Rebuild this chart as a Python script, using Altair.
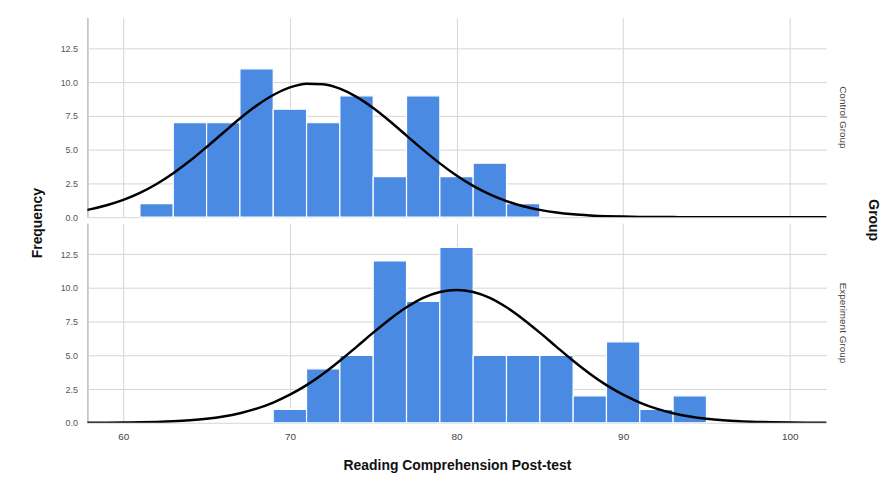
import altair as alt
import pandas as pd

# Histogram bins (bin width 2) and frequencies
control_bin_start = [61, 63, 65, 67, 69, 71, 73, 75, 77, 79, 81, 83]
control_counts = [1, 7, 7, 11, 8, 7, 9, 3, 9, 3, 4, 1]

exp_bin_start = [69, 71, 73, 75, 77, 79, 81, 83, 85, 87, 89, 91, 93]
exp_counts = [1, 4, 5, 12, 9, 13, 5, 5, 5, 2, 6, 1, 2]

bin_width = 2

# Normal curve heights
curve_x = [57, 58, 59, 60, 61, 62, 63, 64, 65, 66, 67, 68, 69, 70, 71, 72, 73, 74, 75,
           76, 77, 78, 79, 80, 81, 82, 83, 84, 85, 86, 87, 88, 89, 90, 91, 92, 93, 94,
           95, 96, 97, 98, 99, 100, 101, 102, 103]
control_curve = [0.38, 0.58, 0.88, 1.28, 1.80, 2.46, 3.26, 4.18, 5.20, 6.26, 7.31, 8.27,
                 9.06, 9.62, 9.90, 9.86, 9.53, 8.92, 8.09, 7.11, 6.05, 4.99, 3.99, 3.09,
                 2.32, 1.69, 1.19, 0.81, 0.54, 0.34, 0.21, 0.13, 0.075, 0.042, 0.023,
                 0.012, 0.006, 0.003, 0.001, 0.0, 0.0, 0.0, 0.0, 0.0, 0.0, 0.0, 0.0]
exp_curve = [0.003, 0.005, 0.010, 0.020, 0.036, 0.064, 0.110, 0.184, 0.298, 0.467, 0.711,
             1.05, 1.50, 2.08, 2.79, 3.64, 4.60, 5.63, 6.68, 7.68, 8.56, 9.26, 9.70, 9.85,
             9.70, 9.26, 8.56, 7.68, 6.68, 5.63, 4.60, 3.64, 2.79, 2.08, 1.50, 1.05, 0.711,
             0.467, 0.298, 0.184, 0.110, 0.064, 0.036, 0.020, 0.010, 0.005, 0.003]

groups = ["Control Group", "Experiment Group"]

rows = []
for g, starts, counts, curve in [
    (groups[0], control_bin_start, control_counts, control_curve),
    (groups[1], exp_bin_start, exp_counts, exp_curve),
]:
    for s, c in zip(starts, counts):
        rows.append({"group": g, "kind": "bar", "x": s, "x2": s + bin_width, "y": c})
    for xv, yv in zip(curve_x, curve):
        rows.append({"group": g, "kind": "curve", "x": xv, "x2": xv, "y": yv})
df = pd.DataFrame(rows)

FONT = "Liberation Sans"

x_scale = alt.Scale(domain=[57.85, 102.2], nice=False, zero=False)
y_scale = alt.Scale(domain=[0, 14.8], nice=False)

x_axis = alt.Axis(values=[60, 70, 80, 90, 100], title="Reading Comprehension Post-test",
                  grid=True, gridColor="#d6d6d6", ticks=False, domain=False,
                  labelColor="#444", labelFontSize=10, labelPadding=8,
                  titleFontSize=14, titleFontWeight="bold", titleColor="#111",
                  titlePadding=17)
y_axis = alt.Axis(values=[0, 2.5, 5, 7.5, 10, 12.5], format=".1f", title=None,
                  grid=True, gridColor="#d6d6d6", ticks=False, domainColor="#999",
                  labelColor="#555", labelFontSize=9, labelPadding=10)

bars = alt.Chart().transform_filter(alt.datum.kind == "bar").mark_rect(
    color="#4a8ae2", stroke="white", strokeWidth=1.2
).encode(
    x=alt.X("x:Q", scale=x_scale, axis=x_axis),
    x2="x2:Q",
    y=alt.Y("y:Q", scale=y_scale, axis=y_axis),
    y2=alt.datum(0),
)

curve = alt.Chart().transform_filter(alt.datum.kind == "curve").mark_line(
    color="black", strokeWidth=2.5, interpolate="monotone", clip=True
).encode(
    x=alt.X("x:Q", scale=x_scale, axis=x_axis),
    y=alt.Y("y:Q", scale=y_scale, axis=y_axis),
)

chart = alt.layer(bars, curve, data=df).properties(
    width=744, height=201
).facet(
    row=alt.Row("group:N", sort=groups,
                header=alt.Header(title="Group", titleOrient="right", labelOrient="right",
                                  labelAngle=90, titleAngle=90, labelFontSize=10,
                                  labelColor="#444", labelPadding=12,
                                  titleFontSize=14, titleFontWeight="bold",
                                  titleColor="#111", titlePadding=8, labelFont=FONT,
                                  titleFont=FONT))
).properties(
    spacing=5,
    title=alt.TitleParams("Frequency", orient="left", anchor="middle", fontSize=14,
                          fontWeight="bold", color="#111", font=FONT, offset=15, dx=22),
    padding={"left": 23, "top": 8, "right": 5, "bottom": 5},
).configure_view(stroke=None).configure_axis(labelFont=FONT, titleFont=FONT)

chart.save("out.html", embed_options={"renderer": "svg", "actions": False})
